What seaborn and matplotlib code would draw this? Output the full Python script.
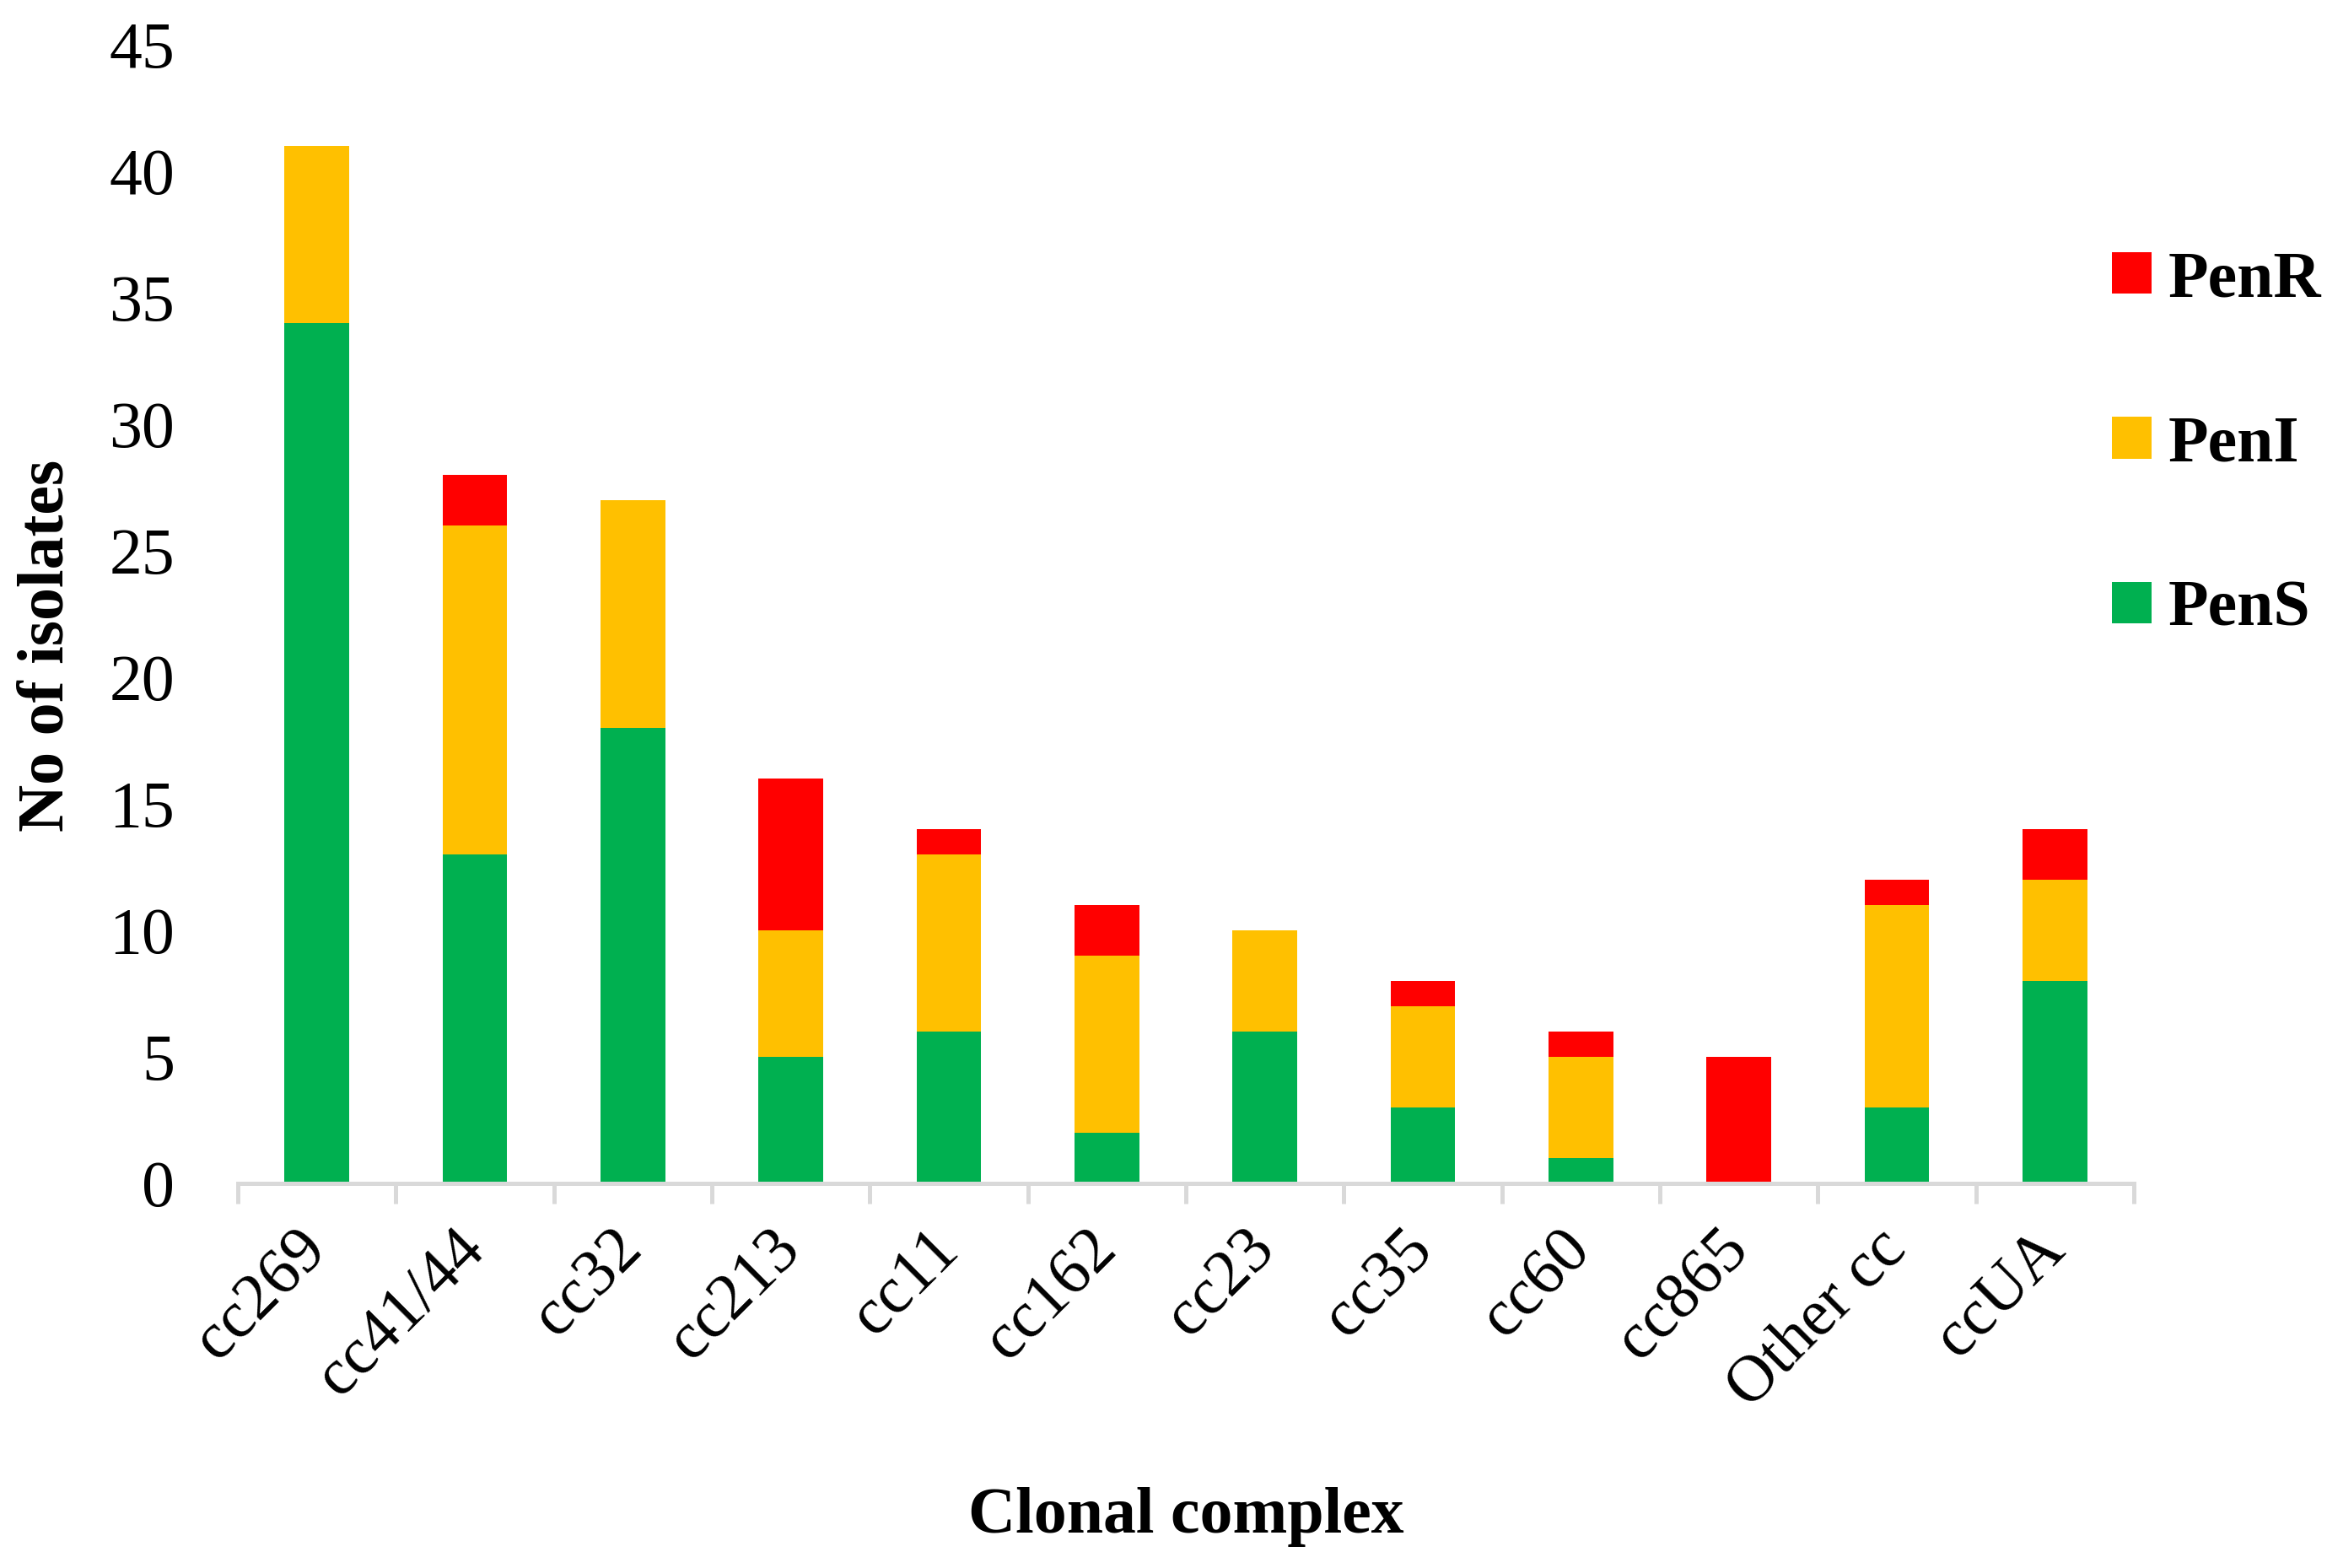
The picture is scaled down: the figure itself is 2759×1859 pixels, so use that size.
import numpy as np
import pandas as pd
import matplotlib
matplotlib.use('Agg')
import matplotlib.pyplot as plt
from matplotlib.patches import Patch
import seaborn as sns

# data
complexes = ['cc269', 'cc41/44', 'cc32', 'cc213', 'cc11', 'cc162',
             'cc23', 'cc35', 'cc60', 'cc865', 'Other cc', 'ccUA']
pen_s = [34, 13, 18, 5, 6, 2, 6, 3, 1, 0, 3, 8]
pen_i = [7, 13, 9, 5, 7, 7, 4, 4, 4, 0, 8, 4]
pen_r = [0, 2, 0, 6, 1, 2, 0, 1, 1, 5, 1, 2]
y_ticks = [0, 5, 10, 15, 20, 25, 30, 35, 40, 45]

colors = {'PenR': '#FF0000', 'PenI': '#FFC000', 'PenS': '#00B050'}
axis_grey = '#D9D9D9'

sns.set_theme(style='white')
plt.rcParams['font.family'] = ['Liberation Serif', 'DejaVu Serif']
plt.rcParams['text.color'] = 'black'
plt.rcParams['axes.labelcolor'] = 'black'

df = pd.DataFrame({'cc': complexes, 'PenS': pen_s, 'PenI': pen_i, 'PenR': pen_r})
# cumulative heights so the segments look stacked
df['top_S'] = df['PenS']
df['top_I'] = df['PenS'] + df['PenI']
df['top_R'] = df['top_I'] + df['PenR']

fig = plt.figure(figsize=(13.795, 9.295), dpi=200)
ax = fig.add_axes([0.1022, 0.2453, 0.8148, 0.7262])

sns.barplot(data=df, x='cc', y='top_R', color=colors['PenR'], width=0.41,
            saturation=1, ax=ax, linewidth=0)
sns.barplot(data=df, x='cc', y='top_I', color=colors['PenI'], width=0.41,
            saturation=1, ax=ax, linewidth=0)
sns.barplot(data=df, x='cc', y='top_S', color=colors['PenS'], width=0.41,
            saturation=1, ax=ax, linewidth=0)

ax.set_xlim(-0.5, len(complexes) - 0.5)
ax.set_ylim(0, 45)
ax.set_yticks(y_ticks)
ax.set_yticklabels([str(v) for v in y_ticks], fontsize=28)

ax.set_xticks(np.arange(len(complexes)))
ax.set_xticklabels(complexes, fontsize=28, rotation=45, ha='right',
                   va='center', rotation_mode='anchor')
ax.set_xticks(np.arange(-0.5, len(complexes), 1), minor=True)
ax.tick_params(axis='x', which='major', length=0, pad=24, labelcolor='black')
ax.tick_params(axis='x', which='minor', length=8.6, width=1.8,
               color=axis_grey, direction='out', bottom=True)
ax.tick_params(axis='y', which='both', length=0, pad=27, labelcolor='black')

for side in ['top', 'right', 'left']:
    ax.spines[side].set_visible(False)
ax.spines['bottom'].set_color(axis_grey)
ax.spines['bottom'].set_linewidth(1.8)

ax.set_xlabel('Clonal complex', fontsize=28, fontweight='bold')
ax.xaxis.label.set_va('center')
ax.xaxis.set_label_coords(0.5, -0.293)
ax.set_ylabel('No of isolates', fontsize=28, fontweight='bold')
ax.yaxis.label.set_va('center')
ax.yaxis.set_label_coords(-0.1005, 0.472)

handles = [Patch(facecolor=colors[k], edgecolor='none', label=k)
           for k in ['PenR', 'PenI', 'PenS']]
fig.legend(handles=handles, loc='center left', bbox_to_anchor=(0.9076, 0.716),
           frameon=False, borderpad=0, borderaxespad=0,
           handlelength=0.6, handleheight=0.6, handletextpad=0.25,
           labelspacing=1.6, prop={'size': 28, 'weight': 'bold'})

fig.savefig('out.png', dpi=200)
